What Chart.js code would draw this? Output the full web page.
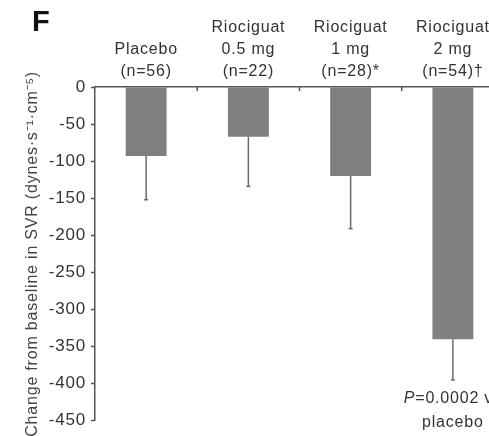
<!DOCTYPE html>
<html>
<head>
<meta charset="utf-8">
<script src="https://cdn.jsdelivr.net/npm/chart.js@4"></script>
<style>
  html, body { margin: 0; padding: 0; background: #fff; overflow: hidden; }
  #wrap { width: 512px; height: 436px; }
</style>
</head>
<body>
<div id="wrap"><canvas id="chart-f"></canvas></div>
<script>
const ctx = document.getElementById('chart-f');

// data
var categories = [
    ['Placebo', '(n=56)'],
    ['Riociguat', '0.5 mg', '(n=22)'],
    ['Riociguat', '1 mg', '(n=28)*'],
    ['Riociguat', '2 mg', '(n=54)\u2020']
];
var meanChange = [-93, -67, -120, -340];
var errorLow = [-152, -134, -191, -395];
var yTicks = [0, -50, -100, -150, -200, -250, -300, -350, -400, -450];

var grey = '#7f7f7f';
var axisColor = '#555';
var textColor = '#333';
var fontFamily = '"Liberation Sans", Arial, sans-serif';
var letterGap = '0.8px';

// the source uses a wide sans face, approximate it with a bit of letter spacing
var spacing = {
    id: 'spacing',
    beforeUpdate(chart) { chart.ctx.letterSpacing = letterGap; },
    beforeDraw(chart) { chart.ctx.letterSpacing = letterGap; }
};

// whiskers, small in-plot tick marks, panel letter and p-value note
var extras = {
    id: 'extras',
    afterDatasetsDraw(chart) {
        var c = chart.ctx;
        var x = chart.scales.x, y = chart.scales.y;
        c.save();
        c.strokeStyle = '#6a6a6a';
        c.lineWidth = 1.5;
        errorLow.forEach((v, i) => {
            var px = x.getPixelForValue(i);
            c.beginPath();
            c.moveTo(px, y.getPixelForValue(meanChange[i]));
            c.lineTo(px, y.getPixelForValue(v));
            c.stroke();
            c.beginPath();
            c.moveTo(px - 2, y.getPixelForValue(v));
            c.lineTo(px + 2, y.getPixelForValue(v));
            c.stroke();
        });
        // small marks between categories, below the axis line
        c.strokeStyle = axisColor;
        c.lineWidth = 1.5;
        for (var i = 0; i < categories.length - 1; i++) {
            var mx = (x.getPixelForValue(i) + x.getPixelForValue(i + 1)) / 2;
            c.beginPath();
            c.moveTo(mx, y.top);
            c.lineTo(mx, y.top + 4);
            c.stroke();
        }
        // panel letter
        c.letterSpacing = '0px';
        c.fillStyle = '#111';
        c.font = 'bold 29px ' + fontFamily;
        c.textAlign = 'left';
        c.textBaseline = 'middle';
        c.fillText('F', 32, 23);
        // p-value note under the 2 mg bar
        c.letterSpacing = letterGap;
        var last = categories.length - 1;
        var cx = x.getPixelForValue(last);
        var ty = y.getPixelForValue(errorLow[last]) + 19;
        c.fillStyle = textColor;
        var rest = '=0.0002 vs';
        c.font = 'italic 16px ' + fontFamily;
        var wP = c.measureText('P').width;
        c.font = '16px ' + fontFamily;
        var wRest = c.measureText(rest).width;
        var sx = cx - (wP + wRest) / 2;
        c.font = 'italic 16px ' + fontFamily;
        c.fillText('P', sx, ty);
        c.font = '16px ' + fontFamily;
        c.fillText(rest, sx + wP, ty);
        c.textAlign = 'center';
        c.fillText('placebo', cx, ty + 24);
        c.restore();
    }
};

new Chart(ctx, {
    type: 'bar',
    data: {
        labels: categories,
        datasets: [{
            label: 'Change in SVR',
            data: meanChange,
            backgroundColor: grey,
            borderWidth: 0,
            barPercentage: 0.4,
            categoryPercentage: 1.0
        }]
    },
    options: {
        responsive: true,
        maintainAspectRatio: false,
        animation: false,
        layout: { padding: { top: 0, right: 8, bottom: 14, left: 0 } },
        plugins: {
            legend: { display: false },
            tooltip: { enabled: false }
        },
        scales: {
            x: {
                position: 'top',
                afterFit: axis => { axis.height = 87; },
                grid: { display: false, drawTicks: false },
                border: { color: axisColor, width: 1.5 },
                ticks: {
                    color: textColor,
                    padding: 4,
                    maxRotation: 0,
                    font: { family: fontFamily, size: 16, lineHeight: 1.38 }
                }
            },
            y: {
                min: -450,
                max: 0,
                afterFit: axis => { axis.width = 95; },
                afterBuildTicks: axis => { axis.ticks = yTicks.map(v => ({ value: v })); },
                grid: { drawOnChartArea: false, tickLength: 4, color: axisColor, tickWidth: 1.5 },
                border: { color: axisColor, width: 1.5 },
                ticks: {
                    color: textColor,
                    padding: 5,
                    font: { family: fontFamily, size: 17 }
                },
                title: {
                    display: true,
                    text: 'Change from baseline in SVR (dynes\u00b7s\u207b\u00b9\u00b7cm\u207b\u2075)',
                    color: '#444',
                    padding: { top: 23, bottom: 0 },
                    font: { family: fontFamily, size: 16 }
                }
            }
        }
    },
    plugins: [spacing, extras]
});
</script>
</body>
</html>
